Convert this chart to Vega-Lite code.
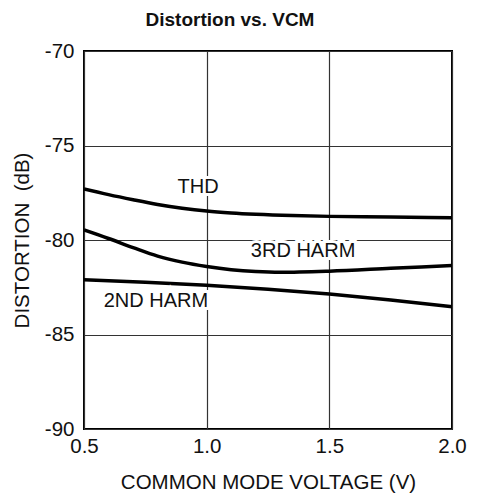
{
  "$schema": "https://vega.github.io/schema/vega-lite/v6.json",
  "width": 368,
  "height": 378,
  "autosize": "none",
  "padding": {"left": 84, "top": 51, "right": 26, "bottom": 70},
  "background": "white",
  "title": {
    "text": "Distortion vs. VCM",
    "font": "Liberation Sans",
    "fontSize": 19,
    "fontWeight": "bold",
    "color": "#111",
    "anchor": "middle",
    "dx": -38,
    "offset": 11
  },
  "config": {
    "view": {"stroke": "black", "strokeWidth": 2},
    "font": "Liberation Sans",
    "axis": {
      "grid": true,
      "gridColor": "#333",
      "gridWidth": 1.2,
      "gridOpacity": 1,
      "domain": false,
      "ticks": false,
      "labelFlush": false,
      "labelFont": "Liberation Sans",
      "labelFontSize": 20.5,
      "labelColor": "#111",
      "titleFont": "Liberation Sans",
      "titleFontSize": 20.5,
      "titleFontWeight": "normal",
      "titleColor": "#111"
    }
  },
  "datasets": {
    "curves": [
      {"v": 0.5, "d": -77.3, "s": "THD"},
      {"v": 0.6, "d": -77.6, "s": "THD"},
      {"v": 0.7, "d": -77.87, "s": "THD"},
      {"v": 0.8, "d": -78.12, "s": "THD"},
      {"v": 0.9, "d": -78.32, "s": "THD"},
      {"v": 1.0, "d": -78.47, "s": "THD"},
      {"v": 1.1, "d": -78.57, "s": "THD"},
      {"v": 1.2, "d": -78.64, "s": "THD"},
      {"v": 1.35, "d": -78.71, "s": "THD"},
      {"v": 1.5, "d": -78.75, "s": "THD"},
      {"v": 1.75, "d": -78.78, "s": "THD"},
      {"v": 2.0, "d": -78.82, "s": "THD"},
      {"v": 0.5, "d": -79.47, "s": "3RD"},
      {"v": 0.6, "d": -79.92, "s": "3RD"},
      {"v": 0.7, "d": -80.4, "s": "3RD"},
      {"v": 0.8, "d": -80.85, "s": "3RD"},
      {"v": 0.9, "d": -81.17, "s": "3RD"},
      {"v": 1.0, "d": -81.4, "s": "3RD"},
      {"v": 1.1, "d": -81.57, "s": "3RD"},
      {"v": 1.2, "d": -81.67, "s": "3RD"},
      {"v": 1.3, "d": -81.71, "s": "3RD"},
      {"v": 1.5, "d": -81.65, "s": "3RD"},
      {"v": 1.75, "d": -81.5, "s": "3RD"},
      {"v": 2.0, "d": -81.35, "s": "3RD"},
      {"v": 0.5, "d": -82.1, "s": "2ND"},
      {"v": 0.75, "d": -82.23, "s": "2ND"},
      {"v": 1.0, "d": -82.4, "s": "2ND"},
      {"v": 1.25, "d": -82.6, "s": "2ND"},
      {"v": 1.5, "d": -82.86, "s": "2ND"},
      {"v": 1.75, "d": -83.17, "s": "2ND"},
      {"v": 2.0, "d": -83.53, "s": "2ND"}
    ],
    "labels": [
      {"v": 0.965, "d": -77.5, "t": "THD"},
      {"v": 1.393, "d": -80.88, "t": "3RD HARM"},
      {"v": 0.793, "d": -83.56, "t": "2ND HARM"}
    ]
  },
  "layer": [
    {
      "data": {"name": "curves"},
      "mark": {"type": "line", "color": "black", "strokeWidth": 3.5, "interpolate": "monotone", "clip": true},
      "encoding": {
        "x": {
          "field": "v", "type": "quantitative",
          "scale": {"domain": [0.5, 2.0], "nice": false, "zero": false},
          "axis": {"values": [0.5, 1.0, 1.5, 2.0], "format": ".1f", "labelPadding": 7, "title": "COMMON MODE VOLTAGE (V)", "titlePadding": 16}
        },
        "y": {
          "field": "d", "type": "quantitative",
          "scale": {"domain": [-90, -70], "nice": false, "zero": false},
          "axis": {"values": [-90, -85, -80, -75, -70], "labelExpr": "'' + datum.value", "labelPadding": 10, "title": "DISTORTION\u00a0\u00a0(dB)", "titlePadding": 12}
        },
        "detail": {"field": "s"}
      }
    },
    {
      "data": {"name": "labels"},
      "mark": {"type": "text", "font": "Liberation Sans", "fontSize": 20, "fill": "white", "stroke": "white", "strokeWidth": 6, "align": "center", "baseline": "alphabetic"},
      "encoding": {
        "x": {"field": "v", "type": "quantitative"},
        "y": {"field": "d", "type": "quantitative"},
        "text": {"field": "t"}
      }
    },
    {
      "data": {"name": "labels"},
      "mark": {"type": "text", "font": "Liberation Sans", "fontSize": 20, "color": "#111", "align": "center", "baseline": "alphabetic"},
      "encoding": {
        "x": {"field": "v", "type": "quantitative"},
        "y": {"field": "d", "type": "quantitative"},
        "text": {"field": "t"}
      }
    }
  ]
}
